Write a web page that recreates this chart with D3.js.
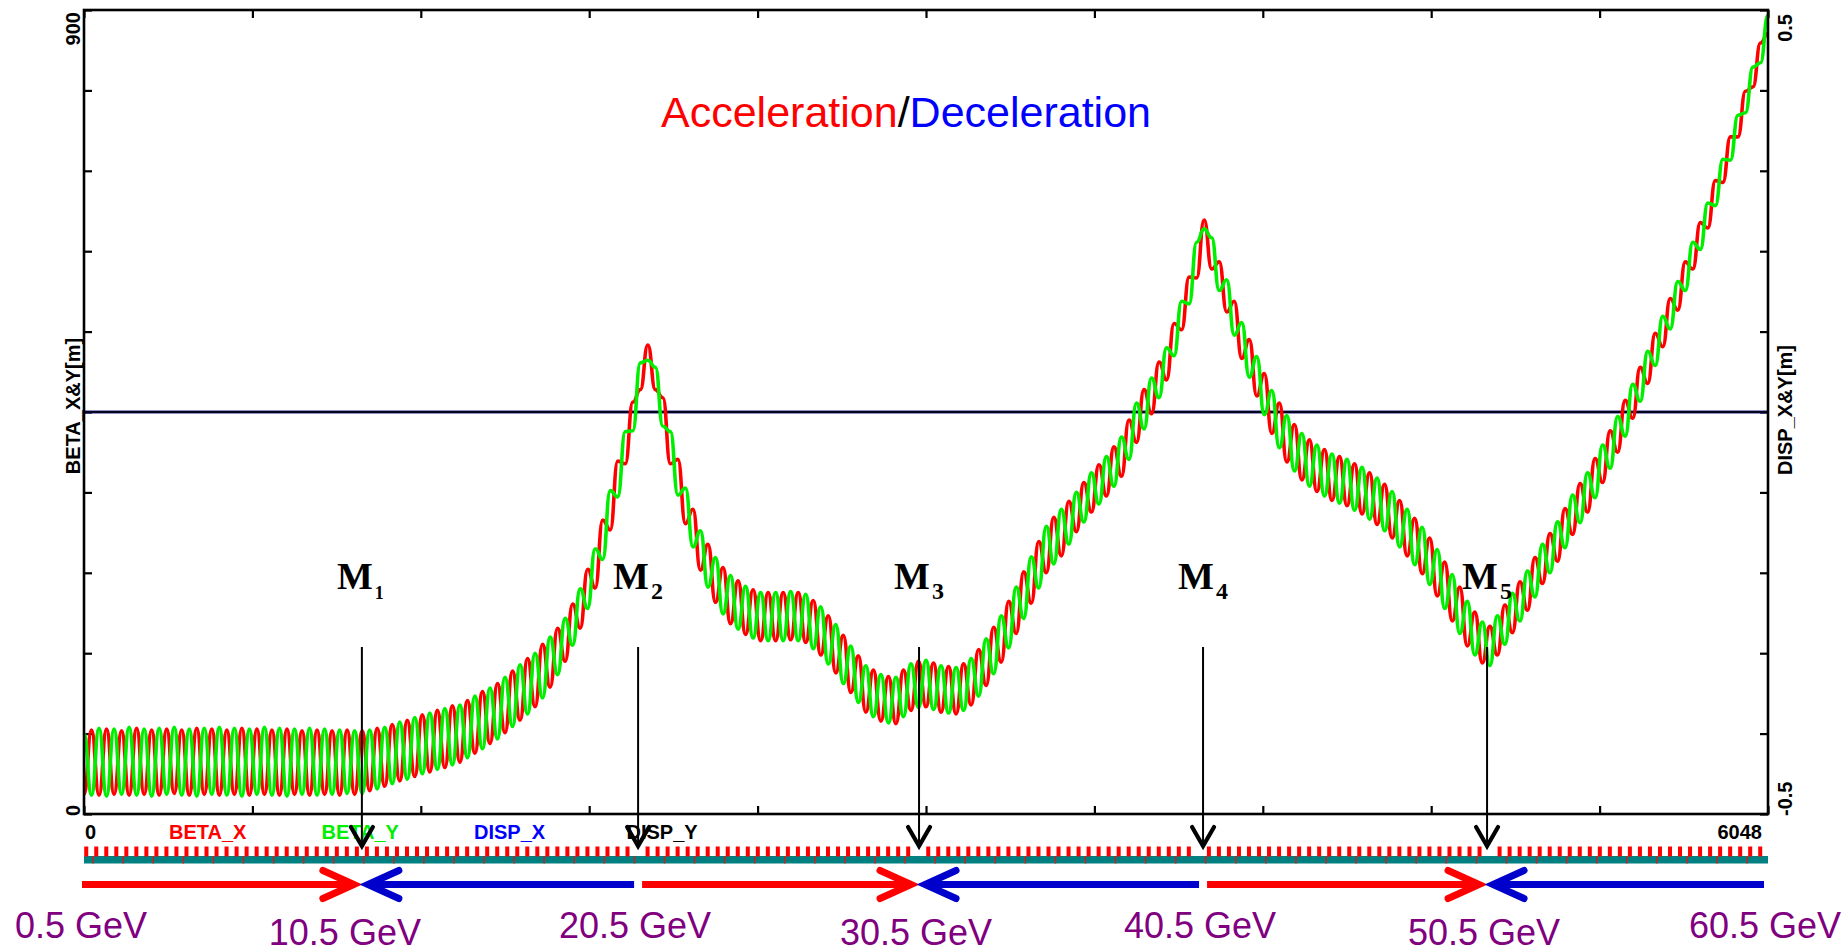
<!DOCTYPE html>
<html>
<head>
<meta charset="utf-8">
<script src="https://cdn.jsdelivr.net/npm/d3@7"></script>
<style>
  body { margin: 0; background: #fff; }
  svg { display: block; font-family: "Liberation Sans", Arial, sans-serif; }
</style>
</head>
<body>
<div id="chart"></div>
<script>
(function() {

    // ring length [m] and spacing of the beta samples (half FODO cell)
    var sMax = 6048;
    var halfCell = 27;

    var betaX = [
        22,94,21,95,22,93,21,96,22,94, 21,95,23,94,21,96,22,95,21,94,
        22,96,21,95,22,94,21,95,22,93, 21,94,22,93,21,94,22,
        93,26,96,31,100,37,105,42,111,47,
        116,52,121,58,127,68,137,79,146,91,
        160,105,174,120,190,142,208,171,235,208,
        274,253,329,318,395,392,461,475,525,475,
        466,392,397,325,341,273,302,237,276,213,
        261,201,251,194,248,194,248,195,248,192,
        239,178,222,158,200,136,177,114,161,104,
        154,101,161,116,171,120,169,114,165,112,
        168,122,184,144,209,170,238,202,271,236,
        305,270,332,289,350,316,371,338,391,356,
        411,378,441,416,475,448,506,486,549,542,
        601,600,665,610,618,562,574,510,531,468,
        493,426,460,394,436,374,419,361,408,351,
        400,345,392,336,382,324,369,309,351,289,
        331,269,309,244,282,216,254,188,226,169,
        210,178,234,203,260,228,287,258,314,283,
        342,313,370,338,398,371,429,405,463,443,
        500,482,538,523,577,564,618,610,662,656,
        709,707,758,758,809,814,863,874
    ];

    // BETA_Y (green), same sampling
    var betaY = [
        90,21,96,20,95,22,97,21,95,20, 96,22,97,21,95,20,96,22,97,21,
        96,20,95,22,97,21,96,20,95,22, 96,21,95,22,94,23,93,
        23,94,28,97,34,103,39,108,45,113,
        50,118,55,122,63,132,73,141,84,153,
        98,167,112,180,130,198,156,219,189,252,
        230,297,285,362,355,428,429,505,508,500,
        434,428,357,365,299,317,254,287,224,267,
        207,255,197,248,194,248,194,249,194,246,
        185,232,168,212,146,188,125,166,109,156,
        102,153,109,168,119,172,117,166,113,164,
        116,174,132,196,157,222,186,254,219,288,
        253,322,280,341,302,360,327,382,347,400,
        367,422,397,460,431,488,466,522,513,574,
        571,640,655,645,586,598,536,550,489,512,
        447,474,410,446,384,426,367,413,356,403,
        348,397,340,388,330,376,317,361,299,341,
        279,321,257,296,230,268,202,238,178,215,
        166,222,190,247,216,272,243,302,270,327,
        298,357,326,382,354,413,387,445,423,481,
        462,518,502,557,543,596,586,640,632,684,
        681,733,732,782,785,836,841,894
    ];

    // dispersion is zero all around the ring
    var dispS = [0, 6048];
    var dispX = [0, 0];
    var dispY = [0, 0];

    // markers M1..M5 and the energy at each stage boundary
    var markerS = [998, 1990, 2999, 4019, 5039];
    var markerNames = ["1", "2", "3", "4", "5"];
    var stageS = [0, 998, 1990, 2999, 4019, 5039, 6048];
    var stageLabels = ["0.5 GeV", "10.5 GeV", "20.5 GeV", "30.5 GeV", "40.5 GeV", "50.5 GeV", "60.5 GeV"];
    var stageDir = ["acc", "dec", "acc", "dec", "acc", "dec"];

    var legendNames = ["BETA_X", "BETA_Y", "DISP_X", "DISP_Y"];
    var legendColors = ["#ff0000", "#00ee00", "#0000ff", "#000000"];

    var betaTicks = [0, 90, 180, 270, 360, 450, 540, 630, 720, 810, 900];
    var sTicks = [0, 604.8, 1209.6, 1814.4, 2419.2, 3024, 3628.8, 4233.6, 4838.4, 5443.2, 6048];

    // lattice strip: cell length and number of cells
    var cellLength = 54;
    var nCells = 112;

    // plot box inside the 1847 x 952 page
    var W = 1847, H = 952;
    var box = {left: 84, top: 10, right: 1768, bottom: 814};

    var svg = d3.select("#chart").append("svg")
        .attr("width", W)
        .attr("height", H);

    var x = d3.scaleLinear().domain([0, sMax]).range([box.left, box.right]);
    var yB = d3.scaleLinear().domain([0, 900]).range([box.bottom, box.top]);
    var yD = d3.scaleLinear().domain([-0.5, 0.5]).range([box.bottom, box.top]);

    // axes with inward ticks
    function clean(g) {
        g.select(".domain").remove();
        g.selectAll(".tick line").attr("stroke", "#000").attr("stroke-width", 2.2);
    }
    svg.append("g")
        .attr("transform", "translate(0," + box.bottom + ")")
        .call(d3.axisBottom(x).tickValues(sTicks).tickSize(-8).tickFormat(""))
        .call(clean);
    svg.append("g")
        .attr("transform", "translate(0," + box.top + ")")
        .call(d3.axisTop(x).tickValues(sTicks).tickSize(-8).tickFormat(""))
        .call(clean);
    svg.append("g")
        .attr("transform", "translate(" + box.left + ",0)")
        .call(d3.axisLeft(yB).tickValues(betaTicks).tickSize(-8).tickFormat(""))
        .call(clean);
    svg.append("g")
        .attr("transform", "translate(" + box.right + ",0)")
        .call(d3.axisRight(yB).tickValues(betaTicks).tickSize(-8).tickFormat(""))
        .call(clean);

    // dispersion lines
    var dline = function(vals) {
        return d3.line()
            .x(function(d, i) { return x(dispS[i]); })
            .y(function(d) { return yD(d); })(vals);
    };
    svg.append("path").attr("d", dline(dispX))
        .attr("fill", "none").attr("stroke", "#0000ff").attr("stroke-width", 2.4);
    svg.append("path").attr("d", dline(dispY))
        .attr("fill", "none").attr("stroke", "#05051e").attr("stroke-width", 2.4);

    // beta functions (flat at each extreme, steep in between)
    var bline = d3.line()
        .x(function(d, i) { return x(i * halfCell); })
        .y(function(d) { return yB(d); })
        .curve(d3.curveBumpX);

    svg.append("path")
        .datum(betaX)
        .attr("fill", "none")
        .attr("stroke", "#ff0000")
        .attr("stroke-width", 3.6)
        .attr("stroke-linejoin", "round")
        .attr("d", bline);

    svg.append("path")
        .datum(betaY)
        .attr("fill", "none")
        .attr("stroke", "#00ee00")
        .attr("stroke-width", 3.6)
        .attr("stroke-linejoin", "round")
        .attr("d", bline);

    // frame
    svg.append("rect")
        .attr("x", box.left).attr("y", box.top)
        .attr("width", box.right - box.left).attr("height", box.bottom - box.top)
        .attr("fill", "none").attr("stroke", "#000").attr("stroke-width", 2.6);

    // axis labels
    var bold = "bold";
    svg.append("text")
        .attr("transform", "translate(80,406) rotate(-90)")
        .attr("text-anchor", "middle").style("font-weight", bold).style("font-size", "20px")
        .text("BETA_X&Y[m]");
    svg.append("text")
        .attr("transform", "translate(80,816) rotate(-90)")
        .attr("text-anchor", "start").style("font-weight", bold).style("font-size", "20px")
        .text(betaTicks[0]);
    svg.append("text")
        .attr("transform", "translate(80,12) rotate(-90)")
        .attr("text-anchor", "end").style("font-weight", bold).style("font-size", "20px")
        .text(betaTicks[betaTicks.length - 1]);

    svg.append("text")
        .attr("transform", "translate(1792,410) rotate(-90)")
        .attr("text-anchor", "middle").style("font-weight", bold).style("font-size", "20px")
        .text("DISP_X&Y[m]");
    svg.append("text")
        .attr("transform", "translate(1792,816) rotate(-90)")
        .attr("text-anchor", "start").style("font-weight", bold).style("font-size", "20px")
        .text(yD.domain()[0]);
    svg.append("text")
        .attr("transform", "translate(1792,14) rotate(-90)")
        .attr("text-anchor", "end").style("font-weight", bold).style("font-size", "20px")
        .text(yD.domain()[1]);

    // s labels and legend row
    svg.append("text").attr("x", x(0) + 1).attr("y", 839)
        .style("font-weight", bold).style("font-size", "20px").text("0");
    svg.append("text").attr("x", x(sMax) - 6).attr("y", 839).attr("text-anchor", "end")
        .style("font-weight", bold).style("font-size", "20px").text(sMax);

    svg.selectAll(".legend")
        .data(legendNames)
        .enter().append("text")
        .attr("class", "legend")
        .attr("x", function(d, i) { return 169 + i * 152.5; })
        .attr("y", 839)
        .attr("fill", function(d, i) { return legendColors[i]; })
        .style("font-weight", bold).style("font-size", "20px")
        .text(function(d) { return d; });

    // title
    var title = svg.append("text")
        .attr("x", 661).attr("y", 127)
        .style("font-size", "43px");
    title.append("tspan").attr("fill", "#ff0000").text("Acceleration");
    title.append("tspan").attr("fill", "#000").text("/");
    title.append("tspan").attr("fill", "#0000ff").text("Deceleration");

    // lattice strip
    var strip = svg.append("g");
    strip.append("rect")
        .attr("x", x(0)).attr("y", 856)
        .attr("width", x(sMax) - x(0)).attr("height", 7.5)
        .attr("fill", "#008080");
    var dipoles = d3.range(0, nCells * 3 / 2).map(function(k) { return k * cellLength * 2 / 3 + 8; })
        .filter(function(s) {
            return markerS.every(function(m) { return Math.abs(x(s) - x(m)) > 5; });
        });
    strip.selectAll(".dip")
        .data(dipoles)
        .enter().append("rect")
        .attr("class", "dip")
        .attr("x", function(d) { return x(d) - 2; })
        .attr("y", 846.5)
        .attr("width", 4)
        .attr("height", 10)
        .attr("fill", "#ff0000");
    strip.selectAll(".quad")
        .data(d3.range(0, nCells / 2).map(function(k) { return k * cellLength * 2 + 30; }))
        .enter().append("rect")
        .attr("x", function(d) { return x(d); })
        .attr("y", 856).attr("width", 1.5).attr("height", 7.5)
        .attr("fill", "#cc2020");

    // markers
    var mk = svg.selectAll(".marker")
        .data(markerS)
        .enter().append("g")
        .attr("class", "marker");
    mk.append("line")
        .attr("x1", function(d) { return x(d); })
        .attr("x2", function(d) { return x(d); })
        .attr("y1", 647).attr("y2", 845)
        .attr("stroke", "#000").attr("stroke-width", 2);
    mk.append("path")
        .attr("d", function(d) {
            var px = x(d);
            return "M" + (px - 11) + ",827L" + px + ",846L" + (px + 11) + ",827";
        })
        .attr("fill", "none").attr("stroke", "#000").attr("stroke-width", 4.2)
        .attr("stroke-linecap", "round").attr("stroke-linejoin", "miter");
    var mt = mk.append("text")
        .attr("x", function(d) { return x(d) - 25; })
        .attr("y", 589)
        .style("font-family", "'Liberation Serif', 'Times New Roman', serif")
        .style("font-weight", "bold")
        .style("font-size", "38px");
    mt.append("tspan").text("M");
    mt.append("tspan")
        .attr("dx", 2).attr("dy", 10)
        .style("font-size", function(d, i) { return i === 0 ? "18px" : "24px"; })
        .text(function(d, i) { return markerNames[i]; });

    // acceleration / deceleration arrows
    var ay = 884.5;
    var arrows = svg.selectAll(".stage")
        .data(stageDir)
        .enter().append("g")
        .attr("class", "stage");
    arrows.append("path")
        .attr("d", function(d, i) {
            var a = x(stageS[i]), b = x(stageS[i + 1]);
            if (d === "acc") return "M" + (a - 2 + (i ? 6 : 0)) + "," + ay + "L" + (b - 10) + "," + ay;
            return "M" + (b - 4) + "," + ay + "L" + (a + 8) + "," + ay;
        })
        .attr("stroke", function(d) { return d === "acc" ? "#ff0000" : "#0000cc"; })
        .attr("stroke-width", 7)
        .attr("fill", "none");
    arrows.append("path")
        .attr("d", function(d, i) {
            var tip, back;
            if (d === "acc") { tip = x(stageS[i + 1]) - 8; back = tip - 31; }
            else { tip = x(stageS[i]) + 6; back = tip + 31; }
            return "M" + back + "," + (ay - 14) + "L" + tip + "," + ay + "L" + back + "," + (ay + 14);
        })
        .attr("stroke", function(d) { return d === "acc" ? "#ff0000" : "#0000cc"; })
        .attr("stroke-width", 7)
        .attr("stroke-linecap", "round")
        .attr("fill", "none");

    // energies
    svg.selectAll(".gev")
        .data(stageLabels)
        .enter().append("text")
        .attr("class", "gev")
        .attr("x", function(d, i) { return x(stageS[i]) + (i === 1 ? -17 : -3); })
        .attr("y", function(d, i) { return i % 2 ? 945 : 938; })
        .attr("text-anchor", "middle")
        .attr("fill", "#800080")
        .style("font-size", "36px")
        .text(function(d) { return d; });

})();
</script>
</body>
</html>
